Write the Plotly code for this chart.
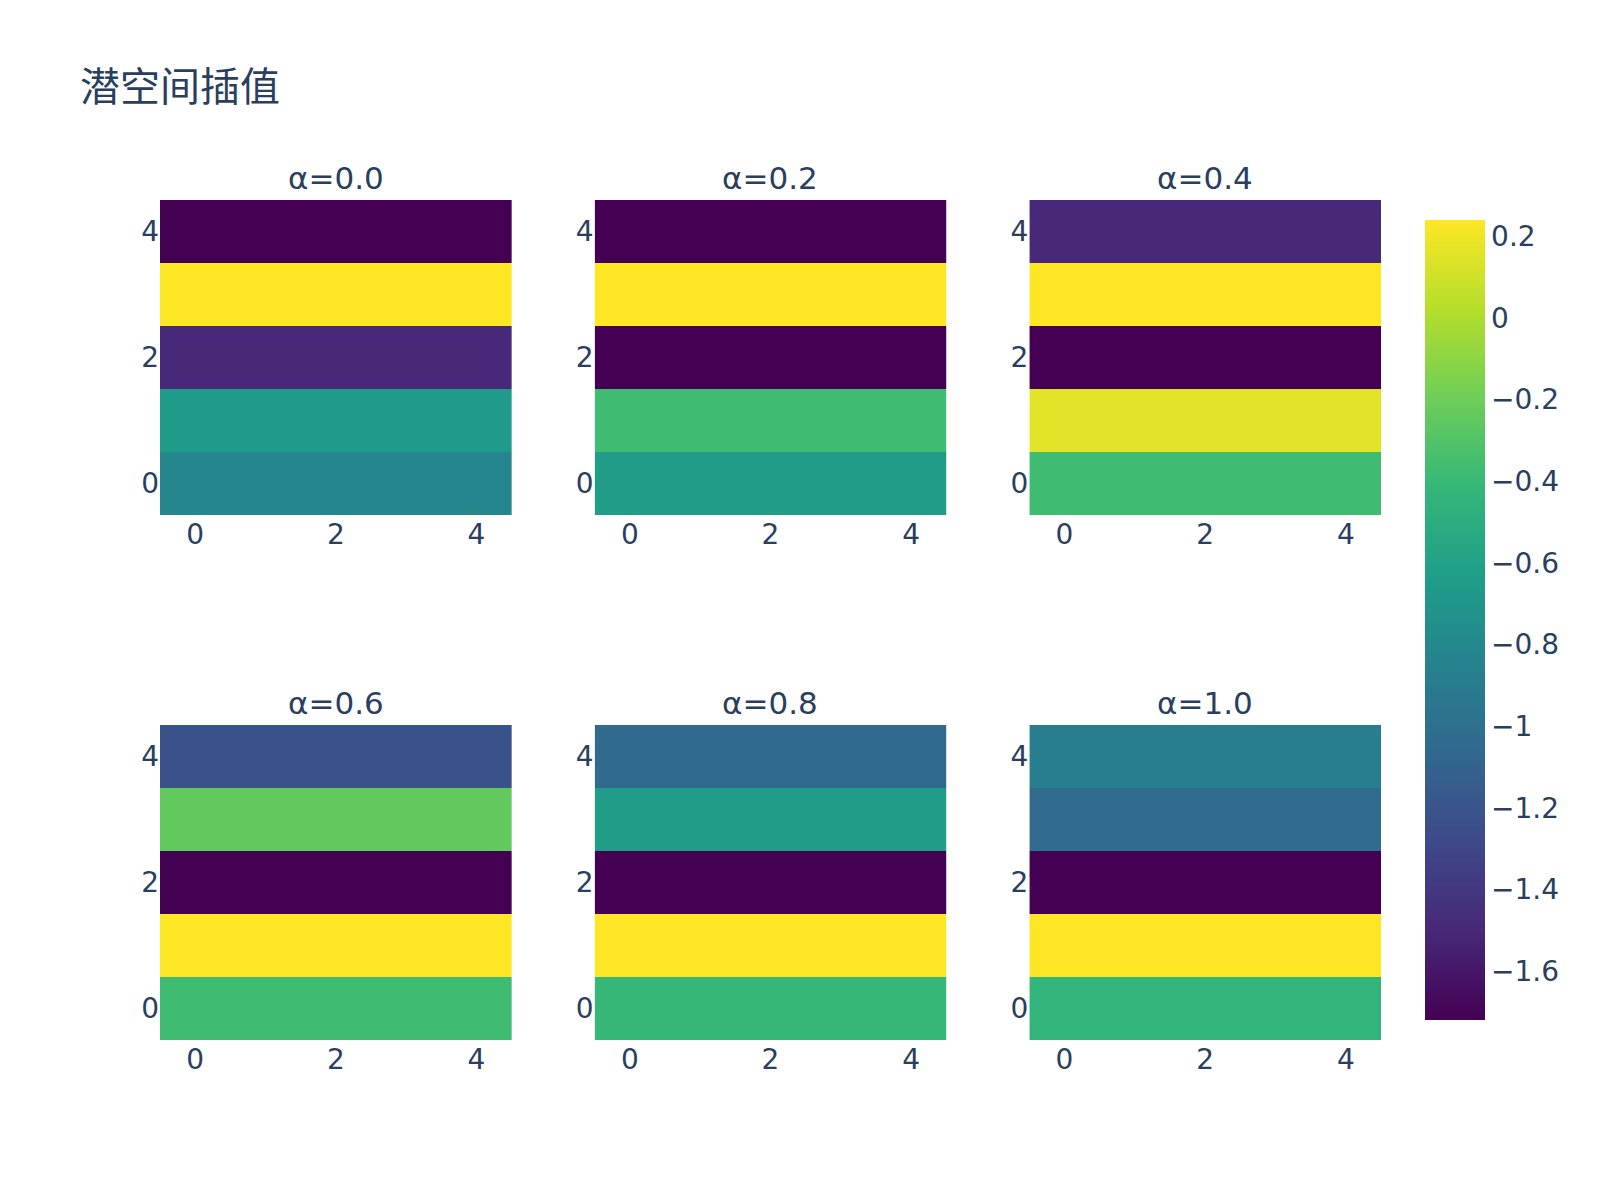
import plotly.graph_objects as go
from plotly.subplots import make_subplots

# panel labels
alphas = ["0.0", "0.2", "0.4", "0.6", "0.8", "1.0"]
x_idx = [0, 1, 2, 3, 4]
y_idx = [0, 1, 2, 3, 4]

# row values, listed from row 0 (bottom) to row 4 (top); each row is constant across the 5 columns
rows_a00 = [-0.82, -0.66, -1.50, 0.24, -1.72]
rows_a02 = [-0.65, -0.37, -1.72, 0.24, -1.72]
rows_a04 = [-0.37, 0.16, -1.72, 0.24, -1.50]
rows_a06 = [-0.37, 0.24, -1.72, -0.24, -1.22]
rows_a08 = [-0.41, 0.24, -1.72, -0.65, -1.04]
rows_a10 = [-0.44, 0.24, -1.72, -1.03, -0.89]

panels = [rows_a00, rows_a02, rows_a04, rows_a06, rows_a08, rows_a10]

FONT = "DejaVu Sans, Verdana, sans-serif"

fig = make_subplots(
    rows=2, cols=3,
    subplot_titles=[f"α={a}" for a in alphas],
    horizontal_spacing=0.068,
    vertical_spacing=0.25,
)

for i, rows in enumerate(panels):
    z = [[v] * len(x_idx) for v in rows]
    r, c = i // 3 + 1, i % 3 + 1
    fig.add_trace(
        go.Heatmap(z=z, x=x_idx, y=y_idx, coloraxis="coloraxis"),
        row=r, col=c,
    )

fig.update_xaxes(dtick=2, tick0=0, showgrid=False, zeroline=False, ticks="",
                 tickfont=dict(size=28))
fig.update_yaxes(dtick=2, tick0=0, showgrid=False, zeroline=False, ticks="",
                 tickfont=dict(size=28))

for ann in fig.layout.annotations:
    ann.font = dict(size=31, family=FONT, color="#2a3f5f")
    ann.yshift = 2

fig.update_layout(
    width=1600, height=1200,
    template="plotly",
    paper_bgcolor="white",
    plot_bgcolor="white",
    font=dict(family=FONT, size=28, color="#2a3f5f"),
    title=dict(text="潜空间插值", x=0.05, xanchor="left",
               y=1 - 87 / 1200, yanchor="middle",
               font=dict(size=40, family="Noto Sans CJK SC, DejaVu Sans",
                         color="#2a3f5f")),
    margin=dict(l=160, r=219, t=200, b=160),
    coloraxis=dict(
        colorscale="Viridis",
        colorbar=dict(thickness=60, xpad=20, ypad=20, len=1,
                      tick0=0, dtick=0.2, ticks="", outlinewidth=0,
                      tickfont=dict(size=28)),
    ),
)

fig.write_html("out.html")
